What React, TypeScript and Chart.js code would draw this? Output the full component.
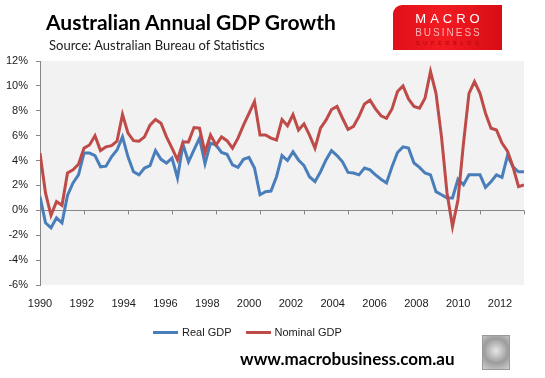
import React, { useEffect, useRef } from "react";
import { Chart, registerables } from "chart.js";

Chart.register(...registerables);

// Quarterly observations, 1990 Q1 .. 2012 Q1 (annual % growth)
const startYear = 1990;
const realGdp = [
  1.1, -1.0, -1.4, -0.6, -1.0, 1.2, 2.2, 2.85, 4.6, 4.6,
  4.4, 3.5, 3.55, 4.3, 4.85, 5.9, 4.3, 3.1, 2.85, 3.4,
  3.6, 4.8, 4.1, 3.8, 4.2, 2.6, 5.3, 3.9, 4.85, 5.8,
  3.75, 5.4, 5.25, 4.65, 4.5, 3.65, 3.45, 4.1, 4.25, 3.4,
  1.25, 1.5, 1.55, 2.7, 4.4, 4.0, 4.7, 4.05, 3.6, 2.7,
  2.3, 3.1, 4.05, 4.8, 4.4, 3.9, 3.05, 3.0, 2.85, 3.4,
  3.25, 2.85, 2.5, 2.2, 3.5, 4.65, 5.1, 5.0, 3.8, 3.45,
  3.0, 2.85, 1.5, 1.25, 1.0, 1.0, 2.5, 2.05, 2.85, 2.85,
  2.85, 1.85, 2.3, 2.85, 2.65, 4.4, 3.5, 3.1, 3.1,
];
const nominalGdp = [
  4.6, 1.4, -0.4, 0.7, 0.4, 3.0, 3.25, 3.7, 5.0, 5.25,
  6.0, 4.8, 5.1, 5.2, 5.55, 7.7, 6.2, 5.6, 5.55, 5.9,
  6.85, 7.3, 7.0, 5.9, 5.0, 4.05, 5.5, 5.5, 6.65, 6.6,
  4.65, 6.05, 5.25, 5.9, 5.6, 5.0, 5.8, 6.85, 7.8, 8.75,
  6.05, 6.05, 5.8, 5.65, 7.3, 6.8, 7.7, 6.45, 6.95, 6.05,
  5.0, 6.6, 7.25, 8.1, 8.35, 7.4, 6.5, 6.75, 7.55, 8.55,
  8.85, 8.15, 7.6, 7.4, 8.15, 9.55, 10.0, 8.95, 8.35, 8.2,
  9.0, 11.15, 9.4, 5.9, 1.4, -1.3, 0.85, 5.4, 9.4, 10.35,
  9.4, 7.8, 6.6, 6.45, 5.4, 4.75, 3.5, 1.9, 2.05,
];
const yTickValues = [-6, -4, -2, 0, 2, 4, 6, 8, 10, 12];
const xTickYears = [1990, 1992, 1994, 1996, 1998, 2000, 2002, 2004, 2006, 2008, 2010, 2012];
const seriesNames = ["Real GDP", "Nominal GDP"];
const seriesColors = ["#4A7EBB", "#BE4B48"];

const titleText = "Australian Annual GDP Growth";
const subtitleText = "Source: Australian Bureau of Statistics";
const siteText = "www.macrobusiness.com.au";

const toPoints = (vals: number[]) => vals.map((v, i) => ({ x: startYear + i / 4, y: v }));

const AXIS_GRAY = "#868686";

const plotDecor = {
  id: "plotDecor",
  beforeDraw(chart: any) {
    const { ctx, chartArea } = chart;
    ctx.save();
    ctx.fillStyle = "#F2F2F2";
    ctx.fillRect(chartArea.left, chartArea.top, chartArea.right - chartArea.left, chartArea.bottom - chartArea.top);
    ctx.restore();
  },
  beforeDatasetsDraw(chart: any) {
    const { ctx, chartArea } = chart;
    const xs = chart.scales.x;
    const ys = chart.scales.y;
    const y0 = Math.round(ys.getPixelForValue(0)) + 0.5;
    ctx.save();
    ctx.strokeStyle = AXIS_GRAY;
    ctx.lineWidth = 1;
    ctx.beginPath();
    ctx.moveTo(chartArea.left, y0);
    ctx.lineTo(chartArea.right, y0);
    xTickYears.forEach((yr) => {
      const px = Math.round(xs.getPixelForValue(yr)) + 0.5;
      ctx.moveTo(px, y0);
      ctx.lineTo(px, y0 + 4);
    });
    ctx.stroke();
    ctx.restore();
  },
};

function ChartCanvas() {
  const ref = useRef<HTMLCanvasElement | null>(null);
  useEffect(() => {
    if (!ref.current) return;
    const chart = new Chart(ref.current, {
      type: "line",
      data: {
        datasets: [
          {
            label: seriesNames[0],
            data: toPoints(realGdp),
            borderColor: seriesColors[0],
            backgroundColor: seriesColors[0],
            borderWidth: 3,
            pointRadius: 0,
            tension: 0,
            order: 1,
            xAxisID: "x",
          },
          {
            label: seriesNames[1],
            data: toPoints(nominalGdp),
            borderColor: seriesColors[1],
            backgroundColor: seriesColors[1],
            borderWidth: 3,
            pointRadius: 0,
            tension: 0,
            order: 0,
            xAxisID: "x",
          },
        ],
      },
      options: {
        responsive: false,
        animation: false,
        layout: { padding: { left: 0, top: 61, right: 21, bottom: 63 } },
        plugins: { legend: { display: false }, tooltip: { enabled: false }, title: { display: false } },
        scales: {
          x: {
            type: "linear",
            display: false,
            min: xTickYears[0],
            max: xTickYears[xTickYears.length - 1],
          },
          xLabels: {
            type: "linear",
            position: "bottom",
            min: xTickYears[0],
            max: xTickYears[0] + (xTickYears[xTickYears.length - 1] - xTickYears[0]) * (484 / 460),
            grid: { display: false, drawTicks: false },
            border: { display: false },
            afterBuildTicks: (scale: any) => {
              scale.ticks = xTickYears.map((v) => ({ value: v }));
            },
            afterFit: (scale: any) => {
              scale.height = 30;
            },
            ticks: {
              autoSkip: false,
              maxRotation: 0,
              padding: 12,
              color: "#1A1A1A",
              font: { family: "'Liberation Sans', Arial, sans-serif", size: 11 },
              callback: (v: any) => String(v),
            },
          },
          y: {
            type: "linear",
            min: yTickValues[0],
            max: yTickValues[yTickValues.length - 1],
            afterBuildTicks: (scale: any) => {
              scale.ticks = yTickValues.map((v) => ({ value: v }));
            },
            afterFit: (scale: any) => {
              scale.width = 40;
            },
            grid: { drawOnChartArea: false, drawTicks: true, tickLength: 4, color: AXIS_GRAY },
            border: { display: true, color: AXIS_GRAY, width: 1 },
            ticks: {
              padding: 8,
              color: "#1A1A1A",
              font: { family: "'Liberation Sans', Arial, sans-serif", size: 11 },
              callback: (v: any) => v + "%",
            },
          },
        },
      },
      plugins: [plotDecor],
    });
    return () => chart.destroy();
  }, []);
  return <canvas ref={ref} width={545} height={378} style={{ position: "absolute", left: 0, top: 0, width: 545, height: 378 }} />;
}

export default function App() {
  const legendFont = "'Liberation Sans', Arial, sans-serif";
  return (
    <div style={{ position: "absolute", left: 0, top: 0, width: 545, height: 378, background: "#FFFFFF", overflow: "hidden" }}>
      <ChartCanvas />
      <div style={{ position: "absolute", left: 46, top: 8, fontFamily: "Lato, 'Open Sans', sans-serif", fontWeight: 700, fontSize: 21, color: "#000", whiteSpace: "nowrap", lineHeight: "28px" }}>
        {titleText}
      </div>
      <div style={{ position: "absolute", left: 49, top: 36, fontFamily: "Lato, 'Open Sans', sans-serif", fontSize: 13, color: "#1A1A1A", whiteSpace: "nowrap", lineHeight: "18px" }}>
        {subtitleText}
      </div>
      {/* logo */}
      <div style={{ position: "absolute", left: 393, top: 5, width: 109, height: 45, borderTopLeftRadius: 9, background: "linear-gradient(to right, #E01018 0%, #F31B22 45%, #D80C14 100%)", fontFamily: "'Liberation Sans', Arial, sans-serif", textAlign: "center" }}>
        <div style={{ position: "absolute", left: 0, width: 109, top: 7, fontSize: 13, fontWeight: 300, letterSpacing: 4, color: "#FFFFFF", lineHeight: "13px", paddingLeft: 4, boxSizing: "border-box" }}>MACRO</div>
        <div style={{ position: "absolute", left: 0, width: 109, top: 22, fontSize: 10, letterSpacing: 2, color: "#F6B5B5", lineHeight: "11px", paddingLeft: 2, boxSizing: "border-box" }}>BUSINESS</div>
        <div style={{ position: "absolute", left: 0, width: 109, top: 35, fontSize: 5, letterSpacing: 4, color: "#A8060C", lineHeight: "6px", paddingLeft: 4, boxSizing: "border-box" }}>SUPERBLOG</div>
      </div>
      {/* legend */}
      <div style={{ position: "absolute", left: 153, top: 325, height: 14, display: "flex", alignItems: "center", fontFamily: legendFont, fontSize: 11, color: "#1A1A1A", whiteSpace: "nowrap" }}>
        <span style={{ display: "inline-block", width: 25, height: 3, background: seriesColors[0], marginRight: 4 }} />
        <span style={{ marginRight: 14 }}>{seriesNames[0]}</span>
        <span style={{ display: "inline-block", width: 25, height: 3, background: seriesColors[1], marginRight: 4 }} />
        <span>{seriesNames[1]}</span>
      </div>
      <div style={{ position: "absolute", left: 240, top: 348, fontFamily: "Lato, 'Open Sans', sans-serif", fontWeight: 700, fontSize: 17, color: "#000", whiteSpace: "nowrap", lineHeight: "22px" }}>
        {siteText}
      </div>
      {/* wolf emblem placeholder */}
      <div style={{ position: "absolute", left: 482, top: 335, width: 26, height: 33, border: "1px solid #9A9A9A", background: "radial-gradient(circle at 50% 45%, #E8E8E8 0%, #9C9C9C 55%, #D0D0D0 100%)" }} />
    </div>
  );
}
